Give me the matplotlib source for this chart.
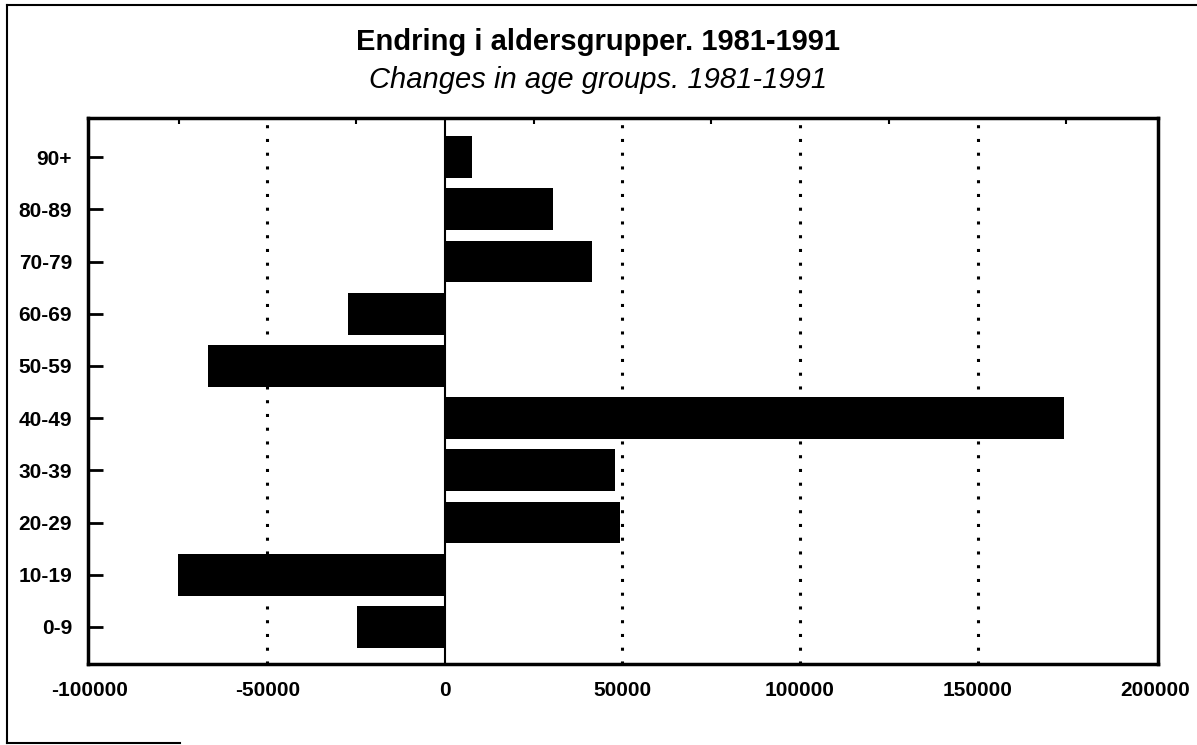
import numpy as np
import matplotlib
matplotlib.use('Agg')
import matplotlib.pyplot as plt
from matplotlib.lines import Line2D

# age groups from bottom to top
groups = ['0-9', '10-19', '20-29', '30-39', '40-49', '50-59', '60-69', '70-79', '80-89', '90+']
change = [-24700, -75100, 49300, 47900, 174200, -66700, -27200, 41300, 30500, 7500]

xticks = [-100000, -50000, 0, 50000, 100000, 150000, 200000]
grid_x = [-50000, 50000, 100000, 150000]
top_minor = [-75000, -25000, 25000, 75000, 125000, 175000]

plt.rcParams['font.family'] = ['Liberation Sans', 'DejaVu Sans']

fig = plt.figure(figsize=(11.97, 7.45), dpi=100)
ax = fig.add_axes([88/1197, 1 - 664/745, (1158-88)/1197, (664-118)/745])

y = np.arange(len(groups))
ax.barh(y, change, height=0.8, color='black')

for gx in grid_x:
    ax.axvline(gx, color='black', linestyle=(0, (1, 3.5)), linewidth=2.2, zorder=0)
ax.axvline(0, color='black', linewidth=1.5)

ax.set_xlim(-100500, 200800)
ax.set_ylim(-0.71, 9.75)

ax.set_yticks(y)
ax.set_yticklabels(groups, fontsize=15, fontweight='bold')
ax.set_xticks(xticks)
ax.set_xticklabels([str(v) for v in xticks], fontsize=15, fontweight='bold')
ax.tick_params(axis='y', direction='in', length=11, width=2, pad=11.5)
ax.tick_params(axis='x', length=0, pad=12)

ax.set_xticks(top_minor, minor=True)
ax.tick_params(axis='x', which='minor', direction='in', top=True, bottom=False, length=4, width=1.5)

for s in ax.spines.values():
    s.set_linewidth(2.5)

fig.text(0.5, 1 - 42/745, 'Endring i aldersgrupper. 1981-1991', ha='center', va='center',
         fontsize=21, fontweight='bold')
fig.text(0.5, 1 - 80/745, 'Changes in age groups. 1981-1991', ha='center', va='center',
         fontsize=21, style='italic')

# outer frame of the scanned page
fig.add_artist(Line2D([7/1197, 7/1197], [1 - 743/745, 1 - 5/745], color='black', lw=1.5))
fig.add_artist(Line2D([7/1197, 1.0], [1 - 5/745, 1 - 5/745], color='black', lw=1.5))
fig.add_artist(Line2D([7/1197, 180/1197], [1 - 743/745, 1 - 743/745], color='black', lw=1.5))

fig.savefig('out.png', dpi=100)
